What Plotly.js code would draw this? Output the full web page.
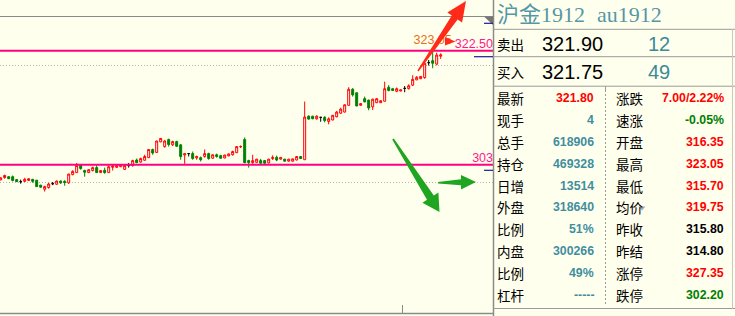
<!DOCTYPE html>
<html>
<head>
<meta charset="utf-8">
<script src="https://cdn.plot.ly/plotly-3.0.1.min.js"></script>
<style>
  html, body { margin: 0; padding: 0; background: #ffffee; }
  #chart { width: 735px; height: 316px; }
</style>
</head>
<body>
<div id="chart"></div>
<script>
// Gold futures au1912 — candle series (oldest first)
const open = [
  300.40, 300.80, 300.95, 300.95, 300.45, 300.10, 300.15, 300.30, 300.50, 300.35,
  299.50, 298.80, 299.10, 299.75, 299.65, 300.20, 300.15, 299.90, 301.30, 301.65,
  302.85, 302.00, 301.65, 302.00, 302.50, 301.65, 302.05, 301.65, 302.55, 302.55,
  302.65, 302.20, 302.85, 302.85, 303.80, 303.45, 303.75, 304.20, 305.60, 305.10,
  306.90, 306.10, 307.30, 306.40, 306.95, 306.40, 304.65, 304.90, 304.90, 304.15,
  304.20, 304.40, 304.90, 304.10, 304.70, 304.55, 304.15, 304.50, 304.70, 305.05,
  306.05, 307.30, 303.70, 303.35, 303.40, 303.70, 303.70, 303.30, 304.05, 304.25,
  303.95, 303.95, 303.60, 303.60, 303.80, 304.40, 303.85, 311.30, 311.30, 310.85,
  311.10, 311.10, 310.40, 310.65, 311.20, 311.80, 312.00, 313.15, 315.90, 315.30,
  313.15, 314.30, 314.05, 312.90, 313.60, 313.60, 313.85, 316.25, 316.00, 315.55,
  315.60, 316.05, 316.00, 316.60, 317.50, 317.70, 317.90, 320.45, 320.80, 320.20,
  321.55
];
const high = [
  300.85, 301.30, 301.00, 301.15, 300.55, 300.45, 300.75, 300.65, 300.55, 300.40,
  299.55, 299.40, 299.90, 300.05, 300.30, 300.30, 300.35, 301.45, 302.05, 303.30,
  302.95, 302.15, 302.20, 302.65, 302.90, 302.05, 302.50, 302.85, 303.00, 303.00,
  303.00, 302.90, 303.30, 303.85, 304.05, 304.20, 304.70, 305.65, 305.75, 307.10,
  307.55, 307.25, 307.45, 307.10, 307.10, 306.45, 305.00, 304.90, 305.25, 304.55,
  304.40, 305.60, 305.05, 304.75, 304.90, 304.70, 304.70, 304.90, 305.40, 306.15,
  306.30, 307.65, 303.85, 304.70, 304.00, 304.00, 303.75, 304.00, 304.60, 304.55,
  304.30, 304.00, 304.00, 304.05, 304.45, 304.45, 313.80, 311.45, 311.35, 311.45,
  311.10, 311.30, 311.10, 311.50, 312.20, 312.75, 313.30, 316.25, 316.10, 315.35,
  313.50, 314.65, 314.10, 314.30, 314.35, 314.00, 317.20, 316.60, 316.05, 316.20,
  315.85, 316.45, 316.75, 318.30, 318.15, 318.15, 320.35, 320.90, 323.05, 322.15,
  322.05
];
const low = [
  300.35, 300.60, 300.55, 300.15, 300.05, 299.75, 300.05, 300.25, 299.90, 299.20,
  299.10, 298.40, 298.90, 299.50, 299.60, 299.70, 299.40, 299.70, 301.20, 301.65,
  302.15, 300.95, 301.60, 301.85, 301.65, 301.60, 301.45, 301.65, 302.00, 302.45,
  302.60, 302.15, 302.50, 302.65, 303.30, 303.35, 303.70, 304.15, 304.70, 305.05,
  306.85, 305.90, 306.10, 306.20, 306.05, 303.85, 303.15, 304.40, 303.85, 303.85,
  303.55, 304.20, 303.85, 304.05, 304.20, 304.05, 304.10, 304.45, 304.55, 305.00,
  305.85, 303.25, 302.50, 303.15, 303.35, 303.20, 303.20, 303.25, 303.80, 303.60,
  303.85, 303.55, 303.55, 303.55, 303.75, 304.00, 303.85, 310.70, 310.80, 310.70,
  310.35, 310.25, 309.90, 310.60, 311.10, 311.70, 311.95, 313.15, 314.65, 313.00,
  313.10, 313.65, 312.30, 312.35, 313.55, 313.55, 313.85, 315.55, 315.65, 315.40,
  315.55, 315.40, 315.85, 316.45, 317.50, 317.65, 317.70, 319.95, 319.50, 320.00,
  321.10
];
const close = [
  300.75, 301.15, 300.60, 300.30, 300.10, 300.10, 300.50, 300.60, 300.15, 299.25,
  299.15, 299.25, 299.70, 299.75, 300.20, 299.90, 299.95, 301.40, 301.85, 302.85,
  302.35, 301.70, 302.15, 302.50, 301.65, 302.00, 301.65, 302.65, 302.80, 302.85,
  302.95, 302.85, 302.85, 303.70, 303.35, 304.05, 304.40, 305.60, 305.00, 307.05,
  307.50, 307.05, 306.45, 306.95, 306.15, 304.40, 304.90, 304.90, 304.05, 304.40,
  303.85, 304.90, 304.05, 304.70, 304.40, 304.10, 304.65, 304.85, 305.25, 306.10,
  306.10, 303.35, 303.35, 303.70, 303.95, 303.25, 303.25, 303.95, 304.25, 303.80,
  304.25, 303.60, 303.95, 304.00, 304.40, 304.05, 311.15, 310.80, 310.85, 311.30,
  311.10, 310.55, 310.85, 311.45, 312.00, 312.50, 313.25, 315.90, 314.95, 313.05,
  313.45, 313.75, 312.70, 314.20, 314.30, 313.95, 316.00, 315.70, 315.70, 316.00,
  315.80, 316.05, 316.50, 317.60, 317.95, 318.10, 320.35, 320.45, 320.35, 321.75,
  321.80
];

// Drawn price levels and the session-high tag
const levelPrices = [322.50, 303];
const levelLabels = ['322.50', '303'];
const sessionHighLabel = '323.05';

// Quote panel
const quoteName = '沪金1912';
const quoteCode = 'au1912';
const bookLabels = ['卖出', '买入'];
const bookPrices = ['321.90', '321.75'];
const bookVolumes = ['12', '49'];
const leftLabels = ['最新', '现手', '总手', '持仓', '日增', '外盘', '比例', '内盘', '比例', '杠杆'];
const leftValues = ['321.80', '4', '618906', '469328', '13514', '318640', '51%', '300266', '49%', '-----'];
const rightLabels = ['涨跌', '速涨', '开盘', '最高', '最低', '均价', '昨收', '昨结', '涨停', '跌停'];
const rightValues = ['7.00/2.22%', '-0.05%', '316.35', '323.05', '315.70', '319.75', '315.80', '314.80', '327.35', '302.20'];

// ---- styling ----
const W = 735, H = 316, CHART_R = 493;
const px = x => x / W;
const py = y => 1 - y / H;
const BG = '#ffffee';
const RED = '#ff0000', GREEN = '#008000', TEAL = '#3f8ea0';
const leftValueColors = [RED, TEAL, TEAL, TEAL, TEAL, TEAL, TEAL, TEAL, TEAL, TEAL];
const rightValueColors = [RED, GREEN, RED, RED, RED, RED, '#000000', '#000000', RED, GREEN];
const X_RANGE = [-0.17, 123.08];
const Y_RANGE = [277.12, 331.17];

function subset(pred) {
  const idx = open.map((o, i) => i).filter(i => pred(open[i], close[i]));
  return {
    x: idx,
    open: idx.map(i => open[i]), high: idx.map(i => high[i]),
    low: idx.map(i => low[i]), close: idx.map(i => close[i])
  };
}
function candles(sub, lineColor, fill) {
  return Object.assign({
    type: 'candlestick', hoverinfo: 'skip', showlegend: false,
    increasing: { line: { color: lineColor, width: 1 }, fillcolor: fill },
    decreasing: { line: { color: lineColor, width: 1 }, fillcolor: fill }
  }, sub);
}

const hiIdx = high.indexOf(Math.max(...high));

const traces = [
  candles(subset((o, c) => c > o), RED, BG),
  candles(subset((o, c) => c < o), GREEN, GREEN),
  candles(subset((o, c) => c === o), '#000000', '#000000'),
  {
    type: 'scatter', mode: 'text', hoverinfo: 'skip', showlegend: false, cliponaxis: false,
    x: levelPrices.map(() => X_RANGE[1]), y: levelPrices, text: levelLabels,
    textposition: 'top left',
    textfont: { family: 'Liberation Sans, Arial, sans-serif', size: 12.5, color: '#ff1a8c' }
  },
  {
    type: 'scatter', mode: 'text', hoverinfo: 'skip', showlegend: false, cliponaxis: false,
    x: [hiIdx], y: [high[hiIdx]], text: [sessionHighLabel],
    textposition: 'top center',
    textfont: { family: 'Liberation Sans, Arial, sans-serif', size: 12.5, color: '#e8701a' }
  }
];

// ---- shapes ----
function hline(x0, x1, y, color, width, dash) {
  return { type: 'line', xref: 'paper', yref: 'paper', x0: px(x0), x1: px(x1), y0: py(y), y1: py(y),
           line: { color, width: width || 1, dash: dash || 'solid' }, layer: 'above' };
}
function vline(x, y0, y1, color, width, dash) {
  return { type: 'line', xref: 'paper', yref: 'paper', x0: px(x), x1: px(x), y0: py(y0), y1: py(y1),
           line: { color, width: width || 1, dash: dash || 'solid' }, layer: 'above' };
}
function poly(points, color) {
  const d = points.map((p, i) => (i ? 'L' : 'M') + px(p[0]).toFixed(5) + ',' + py(p[1]).toFixed(5)).join(' ') + ' Z';
  return { type: 'path', xref: 'paper', yref: 'paper', path: d, fillcolor: color,
           line: { width: 0 }, layer: 'above' };
}

const shapes = [];
levelPrices.forEach(p => shapes.push({
  type: 'line', xref: 'paper', yref: 'y', x0: 0, x1: px(CHART_R), y0: p, y1: p,
  line: { color: '#ff0080', width: 2 }, layer: 'above'
}));
// chart frame
shapes.push(hline(0, CHART_R, 16.5, '#8a8a8a', 1));
shapes.push(hline(0, CHART_R, 313.5, '#8a8a8a', 1.5));
shapes.push(vline(CHART_R + 0.5, 0, H, '#8a8a8a', 1.5));
shapes.push(vline(402.5, 305, 313.5, '#8a8a8a', 1));
shapes.push(poly([[484, 16.5], [493, 16.5], [493, 25]], '#777777'));
// axis markers
shapes.push(hline(484, 493, 23.3, '#1a1a9a', 1.2));
shapes.push(hline(474, 493, 56.7, '#1a1a9a', 1.2));
shapes.push(hline(484, 493, 170.3, '#1a1a9a', 1.2));
// quote panel grid
[29.3, 56.7, 86.2, 308.5].forEach(y => shapes.push(hline(CHART_R, W, y, '#9a9a9a', 1)));
shapes.push(vline(732.5, 29.3, 308.5, '#c8c8c8', 1));
shapes.push(vline(605.5, 86.2, 90, '#9a9a9a', 1));
shapes.push(vline(605.5, 90, 306, '#9a9a9a', 1, '2px,2px'));
shapes.push(poly([[638.5, 206.5], [645.5, 206.5], [642, 210.5]], '#a8a8a8'));
// arrows
shapes.push(poly([[418.6, 71.4], [457.6, 19.5], [462.1, 22.6], [466, 1], [447.3, 12.4], [451.8, 15.5], [417.4, 70.6]], '#ff2a1a'));
shapes.push(poly([[445, 37.3], [455.5, 41.5], [445, 45.5]], '#ff2a1a'));
shapes.push(poly([[392.2, 139.5], [427.0, 199.8], [422.4, 202.8], [439.5, 212], [438.4, 192.6], [433.8, 195.6], [393.8, 138.5]], '#1fa51f'));
shapes.push(poly([[438, 182], [461, 179.3], [461, 175], [476, 182], [461, 189.5], [461, 185.3], [438, 183.5]], '#1fa51f'));

// ---- quote panel text ----
const CJK = "'Noto Sans CJK SC', sans-serif";
const NUM = "'Liberation Sans', Arial, sans-serif";
function txt(x, y, text, anchor, font) {
  return { xref: 'paper', yref: 'paper', x: px(x), y: py(y), text, showarrow: false,
           xanchor: anchor, yanchor: 'middle', borderpad: 0, font };
}
const annotations = [];
const titleFont = { family: "'Liberation Serif', 'Noto Sans CJK SC', serif", size: 22, color: '#5597a6' };
annotations.push(txt(496, 14, quoteName, 'left', titleFont));
annotations.push(txt(596, 14, quoteCode, 'left', titleFont));
const bookY = [44.5, 72];
bookLabels.forEach((l, i) => {
  annotations.push(txt(495.5, bookY[i], l, 'left', { family: CJK, size: 13.5, color: '#000' }));
  annotations.push(txt(604, bookY[i], bookPrices[i], 'right', { family: NUM, size: 20, color: '#000' }));
  annotations.push(txt(671, bookY[i], bookVolumes[i], 'right', { family: NUM, size: 20, color: '#3a8a98' }));
});
const rowY = i => 98.3 + 21.8 * i;
leftLabels.forEach((l, i) => {
  annotations.push(txt(495.5, rowY(i), l, 'left', { family: CJK, size: 13.5, color: '#000' }));
  annotations.push(txt(595, rowY(i), '<b>' + leftValues[i] + '</b>', 'right', { family: NUM, size: 12.3, color: leftValueColors[i] }));
  annotations.push(txt(614.5, rowY(i), rightLabels[i], 'left', { family: CJK, size: 13.5, color: '#000' }));
  annotations.push(txt(724.5, rowY(i), '<b>' + rightValues[i] + '</b>', 'right', { family: NUM, size: 12.3, color: rightValueColors[i] }));
});

const layout = {
  width: W, height: H,
  margin: { l: 0, r: 0, t: 0, b: 0, pad: 0 },
  paper_bgcolor: BG, plot_bgcolor: BG,
  showlegend: false,
  boxgap: 0.3,
  xaxis: {
    domain: [0, px(CHART_R)], range: X_RANGE, fixedrange: true,
    showgrid: false, zeroline: false, showticklabels: false, ticks: '', showline: false,
    rangeslider: { visible: false }
  },
  yaxis: {
    domain: [0, 1], range: Y_RANGE, fixedrange: true,
    tickmode: 'array', tickvals: [300, 320],
    showgrid: true, gridcolor: '#b4b4b4', griddash: '1px,2px', gridwidth: 1,
    zeroline: false, showticklabels: false, ticks: '', showline: false
  },
  shapes, annotations
};

Plotly.newPlot('chart', traces, layout, { staticPlot: true, displayModeBar: false });
</script>
</body>
</html>
